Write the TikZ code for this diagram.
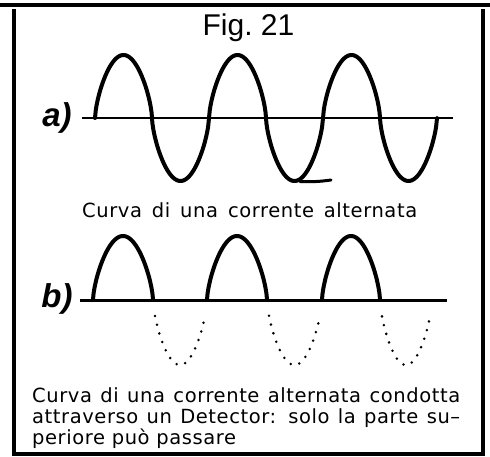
\documentclass[tikz,border=0pt]{standalone}
\usepackage{fontspec}
\setmainfont{Liberation Sans}
\newfontfamily\labfont{Liberation Sans}
\newfontfamily\capfont[LetterSpace=3]{DejaVu Sans}
\newcommand\capsize{\capfont\fontsize{19.5}{22}\selectfont}
\tikzset{
  frameline/.style={line width=3.6pt},
  axisline/.style={line width=2pt},
  waveline/.style={line width=4pt, line join=round, line cap=round},
  dotline/.style={line width=2.8pt, line cap=round, dash pattern=on 0pt off 9pt},
  captxt/.style={inner sep=0pt, anchor=base west},
  labtxt/.style={font=\labfont\bfseries\itshape\fontsize{33}{33}\selectfont, inner sep=0pt},
}
\newcommand\sinp[1]{sin(#1)*(abs(sin(#1))+0.001)^(-0.35)}
\begin{document}
\begin{tikzpicture}[x=1pt,y=-1pt]
\useasboundingbox (0,0) rectangle (490,456);
% frame
\draw[frameline] (0,5) -- (490,5);
\draw[frameline] (14,9) -- (14,456);
\draw[frameline] (483,9) -- (483,456);
\draw[frameline] (14,454) -- (483,454);
% title
\node[inner sep=0pt, anchor=base] (title) at (248.5,35) {\fontsize{30}{30}\selectfont Fig.~21};
% wave a
\node[labtxt] (la) at (57,118) {a)};
\coordinate (a0) at (82,118);
\coordinate (a1) at (453,118);
\draw[axisline] (a0) -- (a1);
\draw[waveline] plot[domain=0:342, samples=400] ({95+\x}, {118-63*\sinp{\x/57*180}});
\coordinate (t0) at (300,181.5);
\coordinate (t1) at (331,180);
\draw[line width=3pt, line cap=round] (t0) to[bend right=5] (t1);
\node[captxt] (capa) at (82,217) {\capsize\makebox[335pt][s]{Curva di una corrente alternata}};
% wave b
\node[labtxt] (lb) at (57,299) {b)};
\coordinate (b0) at (80,300);
\coordinate (b1) at (447,300);
\draw[line width=3pt] (b0) -- (b1);
\draw[waveline] plot[domain=0:60, samples=150] ({93+\x}, {300-64*\sinp{\x*3}});
\draw[waveline] plot[domain=0:60, samples=150] ({207+\x}, {300-64*\sinp{\x*3}});
\draw[waveline] plot[domain=0:58, samples=150] ({322+\x}, {300-64*\sinp{\x/58*180}});
\draw[dotline] plot[domain=2:52, samples=120] ({153+\x}, {300+65*\sinp{\x/54*180}});
\draw[dotline] plot[domain=2:53, samples=120] ({267+\x}, {300+65*\sinp{\x/55*180}});
\draw[dotline] plot[domain=2:50, samples=120] ({380+\x}, {300+65*\sinp{\x/52*180}});
% caption b
\node[captxt] (capb1) at (32,402) {\capsize\makebox[428pt][s]{Curva di una corrente alternata condotta}};
\node[captxt] (capb2) at (32,423.5) {\capsize\makebox[428pt][s]{attraverso un Detector: solo la parte su–}};
\node[captxt] (capb3) at (32,444.5) {\capsize periore può passare};
\end{tikzpicture}
\end{document}
